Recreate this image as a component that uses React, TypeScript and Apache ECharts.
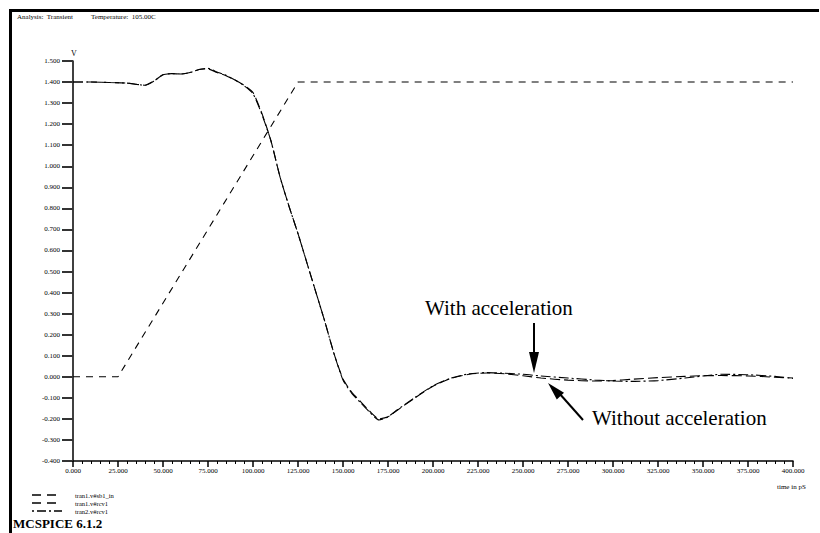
import React, { useEffect, useRef } from "react";
import * as echarts from "echarts";

// x-axis ticks (time in pS) and y-axis ticks (V)
const xTicks = [0, 25, 50, 75, 100, 125, 150, 175, 200, 225, 250, 275, 300, 325, 350, 375, 400];
const yTicks = [-0.4, -0.3, -0.2, -0.1, 0, 0.1, 0.2, 0.3, 0.4, 0.5, 0.6, 0.7, 0.8, 0.9, 1.0, 1.1, 1.2, 1.3, 1.4, 1.5];

const seriesNames = ["tran1.v#sb1_in", "tran1.v#rcv1", "tran2.v#rcv1"];

// input ramp
const inputTime = [0, 25, 125, 400];
const inputVolt = [0, 0, 1.4, 1.4];

// receiver waveforms
const rcvTime = [
  0, 10, 20, 30, 40, 45, 50, 55, 60, 65, 70, 75, 80, 85, 90, 95, 100, 105, 110, 115,
  120, 125, 130, 135, 140, 145, 150, 155, 160, 165, 170, 175, 180, 190, 200, 210, 220, 230, 240,
  250, 260, 275, 290, 300, 310, 325, 340, 350, 360, 375, 390, 400,
];
const rcv1Volt = [
  1.4, 1.4, 1.398, 1.395, 1.385, 1.405, 1.435, 1.44, 1.438, 1.445, 1.46, 1.462, 1.445, 1.43, 1.41, 1.385, 1.35, 1.25, 1.12, 0.95,
  0.81, 0.68, 0.54, 0.4, 0.26, 0.11, -0.01, -0.075, -0.12, -0.165, -0.2, -0.19, -0.16, -0.1, -0.045, -0.008, 0.012, 0.018, 0.014,
  0.005, -0.006, -0.016, -0.02, -0.018, -0.012, -0.004, 0.002, 0.005, 0.006, 0.004, -0.002, -0.006,
];
const rcv2Volt = [
  1.4, 1.4, 1.398, 1.395, 1.385, 1.405, 1.435, 1.44, 1.438, 1.445, 1.46, 1.465, 1.448, 1.432, 1.41, 1.383, 1.345, 1.245, 1.12, 0.95,
  0.81, 0.68, 0.54, 0.4, 0.26, 0.11, -0.015, -0.08, -0.125, -0.17, -0.205, -0.19, -0.158, -0.098, -0.043, -0.006, 0.014, 0.02, 0.017,
  0.012, 0.004, -0.006, -0.015, -0.02, -0.022, -0.018, -0.006, 0.004, 0.012, 0.01, 0.002, -0.008,
];

const seriesDash = [
  [7, 6],
  [10, 4],
  [10, 3, 2, 3],
];
const legendDash = [
  [9, 6],
  [9, 6],
  [2, 3, 9, 3],
];

const FONT = "'Liberation Serif', 'Times New Roman', serif";

function pairs(xs: number[], ys: number[]) {
  return xs.map((x, i) => [x, ys[i]]);
}

export default function App() {
  const ref = useRef<HTMLDivElement>(null);
  useEffect(() => {
    if (!ref.current) return;
    const chart = echarts.init(ref.current, null, { renderer: "svg" });
    const lineBase = { type: "line", showSymbol: false, symbol: "none", silent: true };

    const legendGraphics: any[] = [];
    seriesNames.forEach((name, i) => {
      const y = 495 + i * 8;
      legendGraphics.push({
        type: "line",
        shape: { x1: 32, y1: y, x2: 62, y2: y },
        style: { stroke: "#000", lineWidth: 1.5, lineDash: legendDash[i] },
      });
      legendGraphics.push({
        type: "text",
        x: 75,
        y: y,
        style: { text: name, font: `6.5px ${FONT}`, fill: "#000", verticalAlign: "middle" },
      });
    });

    chart.setOption({
      animation: false,
      backgroundColor: "#ffffff",
      textStyle: { fontFamily: FONT, color: "#000" },
      grid: { left: 73, top: 61, width: 720, height: 400, containLabel: false },
      legend: { show: false, data: seriesNames },
      xAxis: {
        type: "value",
        min: xTicks[0],
        max: xTicks[xTicks.length - 1],
        interval: 25,
        splitLine: { show: false },
        axisLine: { show: true, onZero: false, lineStyle: { color: "#000", width: 1.5 } },
        axisTick: { show: true, length: 6, lineStyle: { color: "#000", width: 1.5 } },
        minorTick: { show: true, splitNumber: 5, length: 3, lineStyle: { color: "#000", width: 1 } },
        axisLabel: {
          fontFamily: FONT,
          fontSize: 7,
          color: "#000",
          margin: 6,
          showMinLabel: true,
          showMaxLabel: true,
          formatter: (v: number) => v.toFixed(3),
        },
      },
      yAxis: {
        type: "value",
        min: yTicks[0],
        max: yTicks[yTicks.length - 1],
        interval: 0.1,
        name: "V",
        nameLocation: "end",
        nameGap: 4,
        nameTextStyle: { fontFamily: FONT, fontSize: 8, color: "#000", align: "left", padding: [0, 0, 0, -2] },
        splitLine: { show: false },
        axisLine: { show: true, onZero: false, lineStyle: { color: "#000", width: 1.5 } },
        axisTick: { show: true, length: 11, lineStyle: { color: "#333", width: 2 } },
        axisLabel: {
          fontFamily: FONT,
          fontSize: 7,
          color: "#000",
          margin: 13,
          formatter: (v: number) => v.toFixed(3),
        },
      },
      series: seriesNames.map((name, i) => ({
        ...lineBase,
        name,
        smooth: i === 0 ? false : 0.2,
        data: i === 0 ? pairs(inputTime, inputVolt) : pairs(rcvTime, i === 1 ? rcv1Volt : rcv2Volt),
        lineStyle: { color: "#000", width: 1.1, type: seriesDash[i] },
        itemStyle: { color: "#000" },
      })),
      graphic: [
        // frame
        { type: "rect", shape: { x: 9, y: 9, width: 810, height: 3 }, style: { fill: "#000" } },
        { type: "rect", shape: { x: 9, y: 9, width: 3, height: 530 }, style: { fill: "#000" } },
        {
          type: "text",
          left: 17,
          top: 13,
          style: { text: "Analysis:  Transient", font: `7px ${FONT}`, fill: "#000" },
        },
        {
          type: "text",
          left: 91,
          top: 13,
          style: { text: "Temperature:  105.00C", font: `7px ${FONT}`, fill: "#000" },
        },
        {
          type: "text",
          left: 777,
          top: 483,
          style: { text: "time in pS", font: `7px ${FONT}`, fill: "#000" },
        },
        {
          type: "text",
          left: 13,
          top: 517,
          style: { text: "MCSPICE 6.1.2", font: `bold 13px ${FONT}`, fill: "#000" },
        },
        {
          type: "text",
          x: 425,
          y: 318,
          style: { text: "With acceleration", font: `21px ${FONT}`, fill: "#000", verticalAlign: "bottom" },
        },
        {
          type: "text",
          x: 592,
          y: 428,
          style: { text: "Without acceleration", font: `21px ${FONT}`, fill: "#000", verticalAlign: "bottom" },
        },
        { type: "line", shape: { x1: 534, y1: 323, x2: 534, y2: 356 }, style: { stroke: "#000", lineWidth: 2 } },
        { type: "polygon", shape: { points: [[529, 352], [539, 352], [534, 373]] }, style: { fill: "#000" } },
        { type: "line", shape: { x1: 583, y1: 420, x2: 559, y2: 393 }, style: { stroke: "#000", lineWidth: 2 } },
        { type: "polygon", shape: { points: [[556.8, 399.5], [564, 392.7], [548, 383]] }, style: { fill: "#000" } },
        ...legendGraphics,
      ],
    });
    return () => chart.dispose();
  }, []);
  return (
    <div
      ref={ref}
      style={{ width: 820, height: 533, position: "absolute", left: 0, top: 0, background: "#fff" }}
    />
  );
}
